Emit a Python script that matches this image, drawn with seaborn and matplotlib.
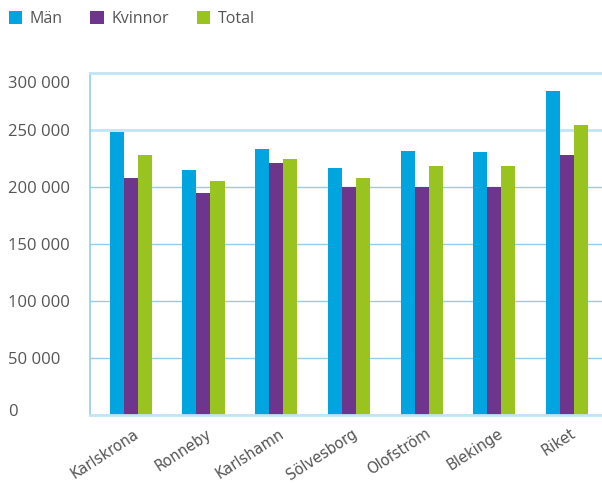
import matplotlib
matplotlib.use("Agg")
import matplotlib.pyplot as plt
import matplotlib.transforms as mtransforms
from matplotlib.patches import Patch
from matplotlib.ticker import FixedLocator, FuncFormatter
import seaborn as sns
import pandas as pd

# Regions and series
kommuner = ["Karlskrona", "Ronneby", "Karlshamn", "Sölvesborg", "Olofström", "Blekinge", "Riket"]
man = [248000, 215000, 233000, 217000, 232000, 231000, 284000]
kvinnor = [208000, 195000, 221000, 200000, 200000, 200000, 228000]
total = [228000, 205000, 225000, 208000, 218000, 218000, 254000]
serier = ["Män", "Kvinnor", "Total"]
farger = ["#00a5e0", "#6d358b", "#99c31f"]
y_ticks = [0, 50000, 100000, 150000, 200000, 250000, 300000]

rows = []
for i, k in enumerate(kommuner):
    for s, vals in zip(serier, [man, kvinnor, total]):
        rows.append({"Kommun": k, "Kön": s, "Värde": vals[i]})
df = pd.DataFrame(rows)

sns.set_theme(style="white")
plt.rcParams["font.family"] = ["Open Sans", "DejaVu Sans"]

fig = plt.figure(figsize=(6.02, 4.83), dpi=100)
ax = fig.add_axes([90 / 602, (483 - 415) / 483, 512 / 602, (415 - 73) / 483])

sns.barplot(data=df, x="Kommun", y="Värde", hue="Kön", palette=farger,
            hue_order=serier, order=kommuner, width=0.58, saturation=1,
            errorbar=None, ax=ax, legend=False, linewidth=0)

ax.set_xlim(-0.56, 6.48)
ax.set_ylim(0, 300000)
ax.set_xlabel("")
ax.set_ylabel("")

grid_c = "#93cdee"
light_c = "#c3e4f6"
ax.yaxis.set_major_locator(FixedLocator(y_ticks))
ax.yaxis.set_major_formatter(FuncFormatter(lambda v, p: f"{int(v):,}".replace(",", " ")))
ax.yaxis.grid(True, color=grid_c, linewidth=1.0)
ax.set_axisbelow(True)
gl = ax.get_ygridlines()
gl[5].set_color(light_c)
gl[5].set_linewidth(2.0)

ax.spines["right"].set_visible(False)
ax.spines["top"].set_color(light_c)
ax.spines["top"].set_linewidth(2.0)
ax.spines["left"].set_color(grid_c)
ax.spines["left"].set_linewidth(1.2)
ax.spines["bottom"].set_color(light_c)
ax.spines["bottom"].set_linewidth(2.0)

ax.tick_params(axis="y", length=0, pad=59, labelsize=12, labelcolor="#555555")
for lab in ax.get_yticklabels():
    lab.set_horizontalalignment("left")
ylabs = ax.get_yticklabels()
ylabs[0].set_transform(ylabs[0].get_transform() + mtransforms.ScaledTranslation(0, 5 / 100, fig.dpi_scale_trans))
ylabs[-1].set_transform(ylabs[-1].get_transform() + mtransforms.ScaledTranslation(0, -9 / 100, fig.dpi_scale_trans))

ax.tick_params(axis="x", length=0, pad=8, labelsize=10.5, labelcolor="#555555")
for lab in ax.get_xticklabels():
    lab.set_rotation(33)
    lab.set_horizontalalignment("right")
    lab.set_rotation_mode("anchor")
    lab.set_fontfamily(["DejaVu Sans"])
for lab in ax.get_xticklabels():
    lab.set_transform(lab.get_transform() + mtransforms.ScaledTranslation(3 / 100, 0, fig.dpi_scale_trans))

handles = [Patch(facecolor=c, edgecolor="none", label=s) for s, c in zip(serier, farger)]
leg = fig.legend(handles=handles, loc="upper left", bbox_to_anchor=(-0.004, 1.0), ncol=3,
                 frameon=False, handlelength=0.85, handleheight=0.85, handletextpad=0.45,
                 columnspacing=1.75, fontsize=11.5, borderaxespad=0.3)
for t in leg.get_texts():
    t.set_color("#555555")

fig.savefig("out.png", dpi=100)
